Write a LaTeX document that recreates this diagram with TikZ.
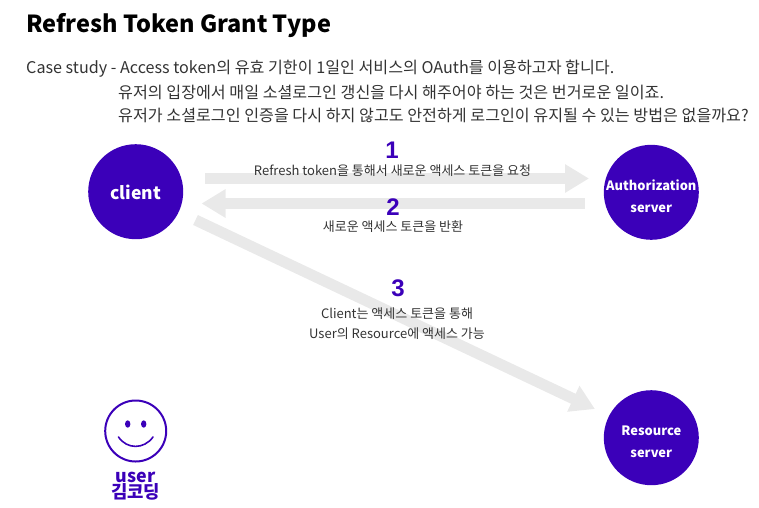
\documentclass[tikz,border=0pt]{standalone}
\usepackage{fontspec}
\setmainfont{Noto Sans CJK KR}
\newfontfamily\numfont{Liberation Sans}
\usetikzlibrary{arrows.meta}
\definecolor{violetfill}{HTML}{3B00B9}
\definecolor{bandgray}{HTML}{E9E9E9}
\definecolor{bodytext}{HTML}{333333}
\tikzset{
  x=1pt,y=-1pt,
  server/.style={circle,fill=violetfill,draw=none,minimum size=95pt,inner sep=0pt},
  serverlabel/.style={inner sep=0pt,text=white,font=\fontsize{12.9}{22}\selectfont\bfseries,align=center,yshift=-4pt},
  band/.style={draw=bandgray,line width=11pt,-{Triangle[length=24pt,width=27pt,fill=bandgray]}},
  titletext/.style={anchor=west,inner sep=0pt,font=\fontsize{23.5}{27}\selectfont\bfseries,text=black},
  bodyline/.style={anchor=west,inner sep=0pt,font=\fontsize{16.15}{19}\selectfont,text=bodytext},
  caption/.style={inner sep=0pt,font=\fontsize{13}{20}\selectfont,text=bodytext,align=center},
  stepnum/.style={inner sep=0pt,font=\fontsize{24}{24}\numfont\bfseries,text=violetfill},
  userlabel/.style={inner sep=0pt,text=violetfill,font=\fontsize{17.8}{18}\selectfont\bfseries},
}
\begin{document}
\begin{tikzpicture}
\useasboundingbox (0,0) rectangle (759,507);
\node[server] (client) at (135.7,191.7) {};
\node[serverlabel,font=\fontsize{17.5}{20}\selectfont\bfseries,yshift=3pt] (clientl) at (client) {client};
\node[server] (auth) at (651.3,192.3) {};
\node[serverlabel] (authl) at (auth) {Authorization\\server};
\node[server] (resource) at (651.3,437.7) {};
\node[serverlabel] (resourcel) at (resource) {Resource\\server};
\coordinate (a1s) at (205,178.5);
\coordinate (a1e) at (589,178.5);
\coordinate (a2s) at (585,203.5);
\coordinate (a2e) at (201.5,203.5);
\coordinate (a3s) at (195.5,220);
\coordinate (a3e) at (595,409);
\draw[band] (a1s) -- (a1e);
\draw[band] (a2s) -- (a2e);
\draw[band] (a3s) -- (a3e);
\node[titletext] (title) at (26,25.5) {Refresh Token Grant Type};
\node[bodyline] (l1) at (26,69) {Case study - Access token의 유효 기한이 1일인 서비스의 OAuth를 이용하고자 합니다.};
\node[bodyline] (l2) at (118,92) {유저의 입장에서 매일 소셜로그인 갱신을 다시 해주어야 하는 것은 번거로운 일이죠.};
\node[bodyline] (l3) at (118,115) {유저가 소셜로그인 인증을 다시 하지 않고도 안전하게 로그인이 유지될 수 있는 방법은 없을까요?};
\node[stepnum] (n1) at (392,150) {1};
\node[caption] (c1) at (392.5,171) {Refresh token을 통해서 새로운 액세스 토큰을 요청};
\node[stepnum] (n2) at (393,207) {2};
\node[caption] (c2) at (393,227) {새로운 액세스 토큰을 반환};
\node[stepnum] (n3) at (398,288) {3};
\node[caption] (c3) at (397,324) {Client는 액세스 토큰을 통해\\User의 Resource에 액세스 가능};
\node[circle,draw=violetfill,line width=2pt,minimum size=61pt,inner sep=0pt] (user) at (135.7,431) {};
\fill[violetfill] (127.7,424) ellipse [x radius=2.7,y radius=3.7];
\fill[violetfill] (143.7,424) ellipse [x radius=2.7,y radius=3.7];
\draw[violetfill,line width=1.6pt,line cap=round] (118.5,437) .. controls (127,449.5) and (144,449.5) .. (153,437);
\node[userlabel] (ulabel) at (135.7,477) {user};
\node[userlabel] (uname) at (135.7,492) {김코딩};
\end{tikzpicture}
\end{document}
